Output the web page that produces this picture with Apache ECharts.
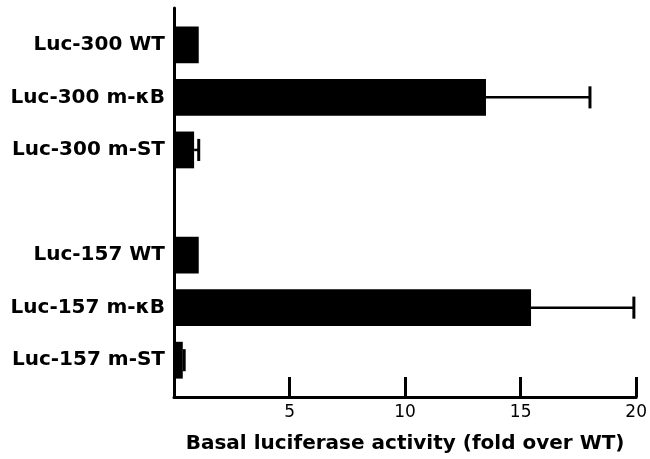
<!DOCTYPE html>
<html>
<head>
<meta charset="utf-8">
<script src="https://cdn.jsdelivr.net/npm/echarts@6/dist/echarts.min.js"></script>
<style>
  html, body { margin: 0; padding: 0; background: #fff; }
  #chart { width: 650px; height: 459px; }
</style>
</head>
<body>
<div id="chart"></div>
<script>
// Row labels (top to bottom); the empty entry is the gap between the two groups
const categories = ['Luc-300 WT', 'Luc-300 m-\u03BAB', 'Luc-300 m-ST', '', 'Luc-157 WT', 'Luc-157 m-\u03BAB', 'Luc-157 m-ST'];
// Basal luciferase activity (fold over WT)
const values = [1.07, 13.5, 0.87, null, 1.07, 15.45, 0.38];
// Error (upper whisker length)
const errors = [null, 4.5, 0.2, null, null, 4.45, 0.06];
// X-axis tick values
const xTicks = [0, 5, 10, 15, 20];
const xTitle = 'Basal luciferase activity (fold over WT)';

const FONT = 'DejaVu Sans';

const barData = [];
const errData = [];
values.forEach((v, i) => {
  if (v != null) barData.push([v, i]);
  if (v != null && errors[i] != null) errData.push([v, i, errors[i]]);
});
const labelIdx = categories.map((c, i) => c ? i : -1).filter(i => i >= 0);

const chart = echarts.init(document.getElementById('chart'), null, { renderer: 'canvas' });
chart.setOption({
  animation: false,
  backgroundColor: '#ffffff',
  grid: { left: 174, right: 10, top: 8, bottom: 62, containLabel: false },
  xAxis: {
    type: 'value',
    min: xTicks[0],
    max: xTicks[xTicks.length - 1],
    interval: xTicks[1] - xTicks[0],
    axisLine: { show: true, onZero: false, lineStyle: { color: '#000', width: 3 } },
    axisTick: { show: true, inside: true, length: 20, lineStyle: { color: '#000', width: 3 } },
    splitLine: { show: false },
    axisLabel: {
      margin: 7,
      color: '#000',
      fontFamily: FONT,
      fontSize: 17,
      formatter: v => (v === 0 ? '' : String(v))
    },
    name: xTitle,
    nameLocation: 'middle',
    nameGap: 37,
    nameTextStyle: { color: '#000', fontFamily: FONT, fontSize: 20, fontWeight: 'bold' }
  },
  yAxis: {
    type: 'value',
    inverse: true,
    min: -0.7,
    max: categories.length - 1 + 0.7,
    axisLine: { show: true, onZero: false, lineStyle: { color: '#000', width: 3 } },
    axisTick: { show: false },
    splitLine: { show: false },
    axisLabel: {
      customValues: labelIdx,
      margin: 9,
      color: '#000',
      fontFamily: FONT,
      fontSize: 20,
      fontWeight: 'bold',
      formatter: v => categories[Math.round(v)] || ''
    }
  },
  series: [
    {
      type: 'custom',
      name: 'bars',
      encode: { x: 0, y: 1 },
      data: barData,
      z: 2,
      renderItem: function (params, api) {
        const v = api.value(0), i = api.value(1);
        const p0 = api.coord([0, i]);
        const p1 = api.coord([v, i]);
        const h = api.size([0, 0.7])[1];
        return {
          type: 'rect',
          shape: { x: p0[0], y: p0[1] - h / 2, width: p1[0] - p0[0], height: h },
          style: { fill: '#000' }
        };
      }
    },
    {
      type: 'custom',
      name: 'errors',
      encode: { x: 0, y: 1 },
      data: errData,
      z: 3,
      renderItem: function (params, api) {
        const v = api.value(0), i = api.value(1), e = api.value(2);
        const a = api.coord([v, i]);
        const b = api.coord([v + e, i]);
        const capH = api.size([0, 0.42])[1];
        return {
          type: 'group',
          children: [
            { type: 'line', shape: { x1: a[0], y1: a[1], x2: b[0], y2: b[1] },
              style: { stroke: '#000', lineWidth: 2.5 } },
            { type: 'line', shape: { x1: b[0], y1: b[1] - capH / 2, x2: b[0], y2: b[1] + capH / 2 },
              style: { stroke: '#000', lineWidth: 3 } }
          ]
        };
      }
    }
  ]
});
</script>
</body>
</html>
